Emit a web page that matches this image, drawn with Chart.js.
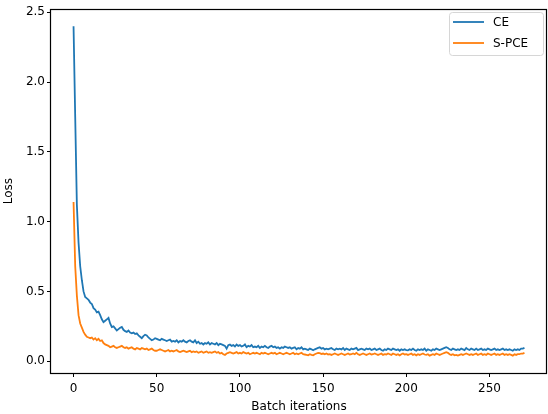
<!DOCTYPE html>
<html>
<head>
<meta charset="utf-8">
<script src="https://cdn.jsdelivr.net/npm/chart.js@4.4.1/dist/chart.umd.min.js"></script>
<style>
  html, body { margin: 0; padding: 0; background: #fff; }
  #wrap { width: 548px; height: 414px; position: relative; }
</style>
</head>
<body>
<div id="wrap"><canvas id="lossChart"></canvas></div>
<script>
// loss per batch iteration
const ceLoss = [
  2.40, 1.75, 1.12, 0.85, 0.68, 0.58, 0.50, 0.46, 0.45, 0.44,
  0.42, 0.41, 0.38, 0.37, 0.35, 0.355, 0.33, 0.30, 0.28, 0.29,
  0.30, 0.31, 0.27, 0.245, 0.25, 0.235, 0.22, 0.23, 0.24, 0.245,
  0.225, 0.215, 0.21, 0.22, 0.205, 0.20, 0.205, 0.195, 0.20, 0.185,
  0.175, 0.165, 0.18, 0.19, 0.185, 0.17, 0.16, 0.15, 0.155, 0.165,
  0.16, 0.155, 0.15, 0.16, 0.155, 0.15, 0.145, 0.15, 0.155, 0.14,
  0.145, 0.14, 0.15, 0.135, 0.145, 0.14, 0.15, 0.14, 0.135, 0.145,
  0.15, 0.14, 0.135, 0.15, 0.13, 0.14, 0.125, 0.13, 0.12, 0.13,
  0.125, 0.135, 0.12, 0.13, 0.125, 0.12, 0.13, 0.115, 0.125, 0.12,
  0.115, 0.11, 0.09, 0.115, 0.12, 0.11, 0.115, 0.105, 0.12, 0.11,
  0.115, 0.105, 0.11, 0.12, 0.10, 0.11, 0.105, 0.115, 0.10, 0.105,
  0.10, 0.11, 0.095, 0.105, 0.10, 0.11, 0.10, 0.095, 0.105, 0.11,
  0.10, 0.105, 0.095, 0.10, 0.09, 0.10, 0.095, 0.105, 0.10, 0.095,
  0.10, 0.09, 0.095, 0.10, 0.085, 0.095, 0.09, 0.10, 0.085, 0.09,
  0.085, 0.08, 0.09, 0.085, 0.078, 0.085, 0.09, 0.095, 0.10, 0.09,
  0.095, 0.085, 0.09, 0.085, 0.09, 0.095, 0.085, 0.08, 0.09, 0.085,
  0.09, 0.085, 0.095, 0.08, 0.09, 0.085, 0.08, 0.09, 0.085, 0.09,
  0.095, 0.08, 0.085, 0.09, 0.085, 0.08, 0.09, 0.085, 0.09, 0.08,
  0.085, 0.09, 0.08, 0.085, 0.09, 0.08, 0.075, 0.085, 0.08, 0.09,
  0.085, 0.08, 0.09, 0.085, 0.08, 0.085, 0.075, 0.085, 0.08, 0.085,
  0.08, 0.078, 0.085, 0.08, 0.09, 0.08, 0.075, 0.085, 0.08, 0.085,
  0.08, 0.09, 0.075, 0.085, 0.08, 0.075, 0.085, 0.08, 0.09, 0.085,
  0.08, 0.085, 0.09, 0.095, 0.10, 0.095, 0.085, 0.08, 0.09, 0.085,
  0.08, 0.085, 0.08, 0.09, 0.085, 0.08, 0.095, 0.085, 0.08, 0.09,
  0.085, 0.08, 0.09, 0.08, 0.085, 0.09, 0.08, 0.085, 0.08, 0.09,
  0.085, 0.08, 0.085, 0.09, 0.08, 0.085, 0.08, 0.085, 0.09, 0.08,
  0.085, 0.08, 0.085, 0.08, 0.075, 0.085, 0.08, 0.085, 0.08, 0.09,
  0.09, 0.095
];

const spceLoss = [
  1.14, 0.68, 0.47, 0.33, 0.27, 0.24, 0.21, 0.19, 0.175, 0.17,
  0.165, 0.17, 0.155, 0.165, 0.15, 0.16, 0.145, 0.15, 0.13, 0.12,
  0.115, 0.11, 0.10, 0.105, 0.11, 0.10, 0.095, 0.10, 0.105, 0.11,
  0.10, 0.095, 0.10, 0.09, 0.095, 0.10, 0.09, 0.085, 0.095, 0.09,
  0.085, 0.095, 0.09, 0.085, 0.09, 0.08, 0.085, 0.09, 0.08, 0.075,
  0.075, 0.08, 0.085, 0.08, 0.075, 0.07, 0.075, 0.08, 0.07, 0.075,
  0.07, 0.075, 0.08, 0.07, 0.065, 0.07, 0.075, 0.07, 0.065, 0.07,
  0.075, 0.065, 0.07, 0.065, 0.07, 0.06, 0.065, 0.07, 0.06, 0.065,
  0.07, 0.06, 0.065, 0.06, 0.065, 0.07, 0.06, 0.065, 0.055, 0.06,
  0.05, 0.045, 0.055, 0.06, 0.065, 0.06, 0.055, 0.06, 0.065, 0.055,
  0.06, 0.055, 0.065, 0.06, 0.055, 0.06, 0.05, 0.055, 0.06, 0.055,
  0.06, 0.055, 0.05, 0.06, 0.055, 0.06, 0.055, 0.05, 0.055, 0.06,
  0.055, 0.06, 0.05, 0.055, 0.06, 0.055, 0.05, 0.055, 0.06, 0.055,
  0.05, 0.055, 0.06, 0.05, 0.055, 0.05, 0.055, 0.06, 0.05, 0.048,
  0.045, 0.042, 0.05, 0.045, 0.042, 0.05, 0.055, 0.06, 0.058, 0.052,
  0.055, 0.05, 0.055, 0.048, 0.05, 0.045, 0.05, 0.055, 0.05, 0.045,
  0.05, 0.055, 0.05, 0.045, 0.05, 0.055, 0.048, 0.05, 0.055, 0.05,
  0.06, 0.05, 0.045, 0.05, 0.055, 0.05, 0.045, 0.05, 0.055, 0.048,
  0.05, 0.055, 0.05, 0.045, 0.05, 0.055, 0.045, 0.05, 0.048, 0.055,
  0.05, 0.045, 0.055, 0.05, 0.045, 0.05, 0.042, 0.05, 0.055, 0.048,
  0.05, 0.045, 0.05, 0.055, 0.045, 0.05, 0.042, 0.05, 0.045, 0.05,
  0.055, 0.048, 0.045, 0.05, 0.04, 0.045, 0.05, 0.045, 0.055, 0.05,
  0.045, 0.05, 0.055, 0.06, 0.065, 0.06, 0.05, 0.045, 0.05, 0.042,
  0.045, 0.04, 0.045, 0.05, 0.045, 0.05, 0.055, 0.05, 0.045, 0.05,
  0.045, 0.05, 0.055, 0.045, 0.05, 0.055, 0.045, 0.05, 0.045, 0.055,
  0.05, 0.045, 0.05, 0.055, 0.045, 0.05, 0.045, 0.05, 0.055, 0.045,
  0.05, 0.045, 0.05, 0.045, 0.04, 0.05, 0.045, 0.05, 0.05, 0.055,
  0.055, 0.06
];

const seriesNames = ["CE", "S-PCE"];
const seriesColors = ["#1f77b4", "#ff7f0e"];
const xTicks = [0, 50, 100, 150, 200, 250];
const yTicks = [0.0, 0.5, 1.0, 1.5, 2.0, 2.5];

const iterations = ceLoss.map((_, i) => i);
const font = { family: "DejaVu Sans", size: 12 };

// matplotlib style frame + legend inside the axes
const framePlugin = {
  id: "frame",
  afterDraw(chart) {
    const { ctx, chartArea: a } = chart;
    ctx.save();
    ctx.strokeStyle = "#000";
    ctx.lineWidth = 1.2;
    ctx.strokeRect(Math.round(a.left) - 0.5, Math.round(a.top) + 0.5,
      Math.round(a.right - a.left), Math.round(a.bottom - a.top));

    // legend box
    const bx = 449, by = 12, bw = 94, bh = 43;
    ctx.beginPath();
    ctx.roundRect(bx + 0.5, by + 0.5, bw, bh, 3);
    ctx.fillStyle = "rgba(255,255,255,0.8)";
    ctx.fill();
    ctx.lineWidth = 1;
    ctx.strokeStyle = "#d6d6d6";
    ctx.stroke();
    ctx.font = "12px 'DejaVu Sans'";
    ctx.textBaseline = "middle";
    chart.data.datasets.forEach((ds, i) => {
      const y = by + 10 + i * 21;
      ctx.beginPath();
      ctx.moveTo(bx + 4, y);
      ctx.lineTo(bx + 35, y);
      ctx.strokeStyle = ds.borderColor;
      ctx.lineWidth = 1.8;
      ctx.stroke();
      ctx.fillStyle = "#000";
      ctx.fillText(ds.label, bx + 44, y + 1);
    });
    ctx.restore();
  }
};

new Chart(document.getElementById("lossChart"), {
  type: "line",
  data: {
    labels: iterations,
    datasets: [
      { label: seriesNames[0], data: ceLoss, borderColor: seriesColors[0] },
      { label: seriesNames[1], data: spceLoss, borderColor: seriesColors[1] }
    ]
  },
  options: {
    responsive: true,
    maintainAspectRatio: false,
    animation: false,
    layout: { padding: { top: 5, right: 1, left: 0, bottom: 0 } },
    elements: {
      point: { radius: 0 },
      line: { borderWidth: 1.8, tension: 0 }
    },
    plugins: {
      legend: { display: false },
      tooltip: { enabled: false }
    },
    scales: {
      x: {
        type: "linear",
        min: -13.55,
        max: 284.55,
        afterBuildTicks: (s) => { s.ticks = xTicks.map((v) => ({ value: v })); },
        afterFit: (s) => { s.height = 41; },
        border: { display: false },
        grid: { drawOnChartArea: false, drawTicks: true, tickLength: 4, color: "#000" },
        ticks: { color: "#000", font, padding: 5, maxRotation: 0, callback: (v) => String(v) },
        title: { display: true, text: "Batch iterations", color: "#000", font, padding: { top: 0, bottom: 0 } }
      },
      y: {
        min: -0.0845,
        max: 2.5215,
        afterBuildTicks: (s) => { s.ticks = yTicks.map((v) => ({ value: v })); },
        afterFit: (s) => { s.width = 51; },
        border: { display: false },
        grid: { drawOnChartArea: false, drawTicks: true, tickLength: 4, color: "#000" },
        ticks: { color: "#000", font, padding: 2, callback: (v) => v.toFixed(1) },
        title: { display: true, text: "Loss", color: "#000", font, padding: { top: 2, bottom: 0 } }
      }
    }
  },
  plugins: [framePlugin]
});
</script>
</body>
</html>
